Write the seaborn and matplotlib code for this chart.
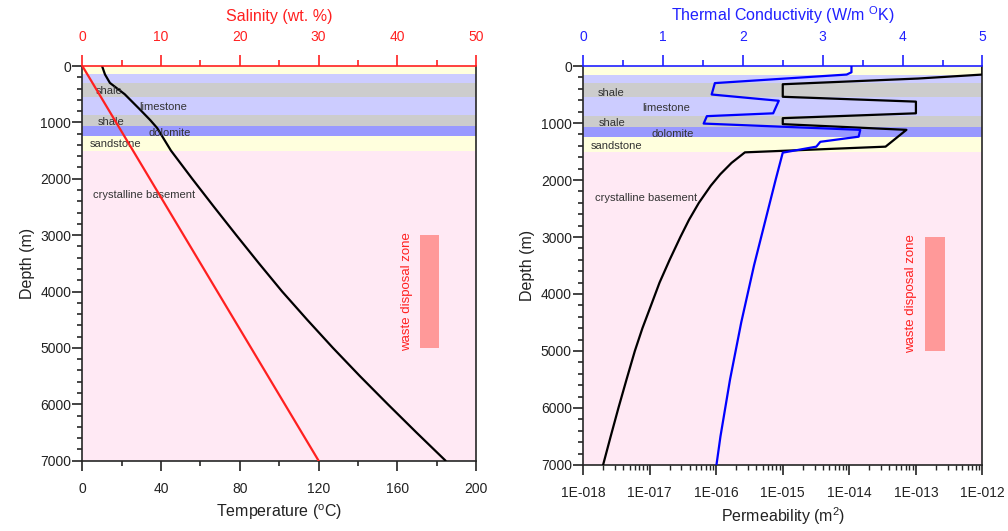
import numpy as np
import pandas as pd
import seaborn as sns
import matplotlib
matplotlib.use("Agg")
import matplotlib.pyplot as plt
from matplotlib.ticker import MultipleLocator, FixedLocator, FixedFormatter, LogLocator, NullFormatter

# ---- data ----
# geological layers (depth in m)
layer_top = [0, 150, 300, 550, 870, 1070, 1250, 1500]
layer_bottom = [150, 300, 550, 870, 1070, 1250, 1500, 7000]
layer_color = ["#FFFFDD", "#CCCCFF", "#CCCCCC", "#CCCCFF", "#CCCCCC", "#9999FF", "#FFFFDD", "#FFE9F4"]

layer_names = ["shale", "limestone", "shale", "dolomite", "sandstone", "crystalline basement"]
name_depth_left = [450, 735, 985, 1180, 1390, 2290]
name_temp_left = [13.8, 41.3, 14.5, 44.6, 17.0, 31.3]
name_depth_right = [470, 745, 995, 1185, 1405, 2310]
name_tc_right = [0.35, 1.04, 0.37, 1.12, 0.42, 0.79]

# temperature profile (deg C)
temp_depth = [0, 150, 300, 500, 780, 960, 1100, 1300, 1500, 2000, 2500, 3000, 3500, 4000,
              4500, 5000, 5500, 6000, 6500, 7000]
temperature = [10, 11.5, 14, 21.5, 29.5, 34.5, 38, 41.5, 45, 55.8, 66.9, 78.2, 89.7, 101.5,
               114.2, 127.3, 141, 155.2, 169.7, 184.5]

# salinity profile (wt. %)
sal_depth = [0, 7000]
salinity = [0, 30]

# permeability profile (m^2)
perm_depth = [0, 150, 220, 320, 540, 625, 830, 915, 1020, 1120, 1415, 1515,
              1700, 1900, 2100, 2400, 2700, 3000, 3400, 3800, 4200, 4600, 5000, 5500, 6000, 6500, 7000]
permeability = [1e-12, 1e-12, 1.07e-13, 1e-15, 1e-15, 1e-13, 1e-13, 1e-15, 1e-15, 7.2e-14, 3.5e-14, 2.7e-16,
                1.7e-16, 1.15e-16, 8.3e-17, 5.5e-17, 3.9e-17, 2.9e-17, 2.0e-17, 1.41e-17, 1.05e-17,
                7.8e-18, 6.0e-18, 4.5e-18, 3.4e-18, 2.6e-18, 2.0e-18]

# thermal conductivity profile (W/m K)
tc_depth = [0, 110, 150, 300, 500, 610, 830, 880, 1010, 1120, 1240, 1330, 1415, 1520,
            2000, 2500, 3000, 3500, 4000, 4500, 5000, 5500, 6000, 6500, 7000]
conductivity = [3.36, 3.36, 3.3, 1.65, 1.61, 2.45, 2.38, 1.55, 1.51, 3.47, 3.45, 2.97, 2.92, 2.5,
                2.41, 2.32, 2.23, 2.14, 2.06, 1.98, 1.91, 1.84, 1.78, 1.72, 1.67]

waste_top, waste_bottom = 3000, 5000

# ---- style ----
sns.set_style("ticks")
plt.rcParams["font.family"] = ["Liberation Sans", "DejaVu Sans"]
plt.rcParams["mathtext.fontset"] = "custom"
plt.rcParams["mathtext.rm"] = "Liberation Sans"
plt.rcParams["mathtext.it"] = "Liberation Sans:italic"
plt.rcParams["axes.linewidth"] = 1.2

RED = "#FF2020"
BLUE = "#2020FF"
TXT = "#222222"

fig = plt.figure(figsize=(10.08, 5.31), dpi=100)
ax1 = fig.add_axes([0.0817, 0.1324, 0.3906, 0.7433])
ax2 = fig.add_axes([0.5784, 0.1243, 0.3963, 0.7514])


def draw_layers(ax):
    for t, b, c in zip(layer_top, layer_bottom, layer_color):
        ax.axhspan(t, b, color=c, lw=0, zorder=0)


def depth_axis(ax, twin):
    ax.set_ylim(7000, 0)
    ax.yaxis.set_major_locator(MultipleLocator(1000))
    ax.yaxis.set_minor_locator(MultipleLocator(200))
    ax.tick_params(axis="y", which="major", direction="out", length=7, width=1.2, pad=1, labelsize=10, colors=TXT)
    ax.tick_params(axis="y", which="minor", direction="out", length=3.5, width=1.2)
    ax.set_ylabel("Depth (m)", fontsize=11.5, color=TXT, labelpad=4)
    # inward ticks on the right spine via twin's y axis
    twin.yaxis.set_ticks_position("right")
    twin.tick_params(axis="y", which="major", direction="in", length=7, width=1.2, labelright=False)
    twin.tick_params(axis="y", which="minor", direction="in", length=3.5, width=1.2)
    ax.spines["top"].set_visible(False)
    for s in ["left", "right", "bottom"]:
        twin.spines[s].set_visible(False)


# ---------------- left panel ----------------
draw_layers(ax1)
sal_ax = ax1.twiny()
depth_axis(ax1, sal_ax)

sns.lineplot(x=temperature, y=temp_depth, ax=ax1, sort=False, estimator=None, orient="y",
             color="black", lw=1.6, zorder=3)
ax1.set_xlim(0, 200)
ax1.xaxis.set_major_locator(MultipleLocator(40))
ax1.xaxis.set_minor_locator(MultipleLocator(20))
ax1.tick_params(axis="x", which="major", direction="out", length=7, width=1.2, pad=8, labelsize=10, colors=TXT)
ax1.tick_params(axis="x", which="minor", direction="out", length=3.5, width=1.2)
ax1.set_xlabel(r"Temperature ($^{\rm o}$C)", fontsize=11.5, color=TXT, labelpad=5)

sns.lineplot(x=salinity, y=sal_depth, ax=sal_ax, sort=False, estimator=None, orient="y",
             color=RED, lw=1.6, zorder=3)
sal_ax.set_xlim(0, 50)
sal_ax.set_ylim(7000, 0)
sal_ax.xaxis.set_major_locator(MultipleLocator(10))
sal_ax.xaxis.set_minor_locator(MultipleLocator(5))
sal_ax.tick_params(axis="x", which="major", direction="out", length=8, width=1.2, pad=8, labelsize=10,
                   colors=RED)
sal_ax.tick_params(axis="x", which="minor", direction="out", length=4, width=1.2, colors=RED)
sal_ax.spines["top"].set_color(RED)
sal_ax.set_xlabel("Salinity (wt. %)", fontsize=11.5, color=RED, labelpad=6)
sal_ax.set_ylabel("")

for name, t, d in zip(layer_names, name_temp_left, name_depth_left):
    ax1.text(t, d, name, fontsize=8, color="#333333", ha="center", va="center", zorder=4)

ax1.axvspan(171.5, 181.4, ymin=1 - waste_bottom / 7000, ymax=1 - waste_top / 7000, color="#FF9999", lw=0, zorder=1)
ax1.text(164.8, 4000, "waste disposal zone", rotation=90, fontsize=9.5, color=RED, ha="center", va="center")

# ---------------- right panel ----------------
draw_layers(ax2)
tc_ax = ax2.twiny()
depth_axis(ax2, tc_ax)

sns.lineplot(x=permeability, y=perm_depth, ax=ax2, sort=False, estimator=None, orient="y",
             color="black", lw=1.6, zorder=3)
ax2.set_xscale("log")
ax2.set_xlim(1e-18, 1e-12)
ax2.set_ylim(7000, 0)
exps = list(range(-18, -11))
ax2.xaxis.set_major_locator(FixedLocator([10.0 ** e for e in exps]))
ax2.xaxis.set_major_formatter(FixedFormatter(["1E-%03d" % -e for e in exps]))
ax2.xaxis.set_minor_locator(LogLocator(base=10, subs=np.arange(2, 10), numticks=20))
ax2.xaxis.set_minor_formatter(NullFormatter())
ax2.tick_params(axis="x", which="major", direction="out", length=7, width=1.2, pad=8, labelsize=10, colors=TXT)
ax2.tick_params(axis="x", which="minor", direction="out", length=3.5, width=1.0)
ax2.set_xlabel(r"Permeability (m$^2$)", fontsize=11.5, color=TXT, labelpad=4)

sns.lineplot(x=conductivity, y=tc_depth, ax=tc_ax, sort=False, estimator=None, orient="y",
             color="#0000FF", lw=1.6, zorder=3)
tc_ax.set_xlim(0, 5)
tc_ax.set_ylim(7000, 0)
tc_ax.xaxis.set_major_locator(MultipleLocator(1))
tc_ax.xaxis.set_minor_locator(MultipleLocator(0.5))
tc_ax.tick_params(axis="x", which="major", direction="out", length=8, width=1.2, pad=8, labelsize=10,
                  colors=BLUE)
tc_ax.tick_params(axis="x", which="minor", direction="out", length=4, width=1.2, colors=BLUE)
tc_ax.spines["top"].set_color(BLUE)
tc_ax.set_xlabel(r"Thermal Conductivity (W/m $^{\rm O}$K)", fontsize=11.5, color=BLUE, labelpad=6)
tc_ax.set_ylabel("")

for name, x, d in zip(layer_names, name_tc_right, name_depth_right):
    tc_ax.text(x, d, name, fontsize=8, color="#333333", ha="center", va="center", zorder=4)

tc_ax.axvspan(4.28, 4.53, ymin=1 - waste_bottom / 7000, ymax=1 - waste_top / 7000, color="#FF9999", lw=0, zorder=1)
tc_ax.text(4.10, 4000, "waste disposal zone", rotation=90, fontsize=9.5, color=RED, ha="center", va="center")

fig.savefig("out.png", dpi=100)
